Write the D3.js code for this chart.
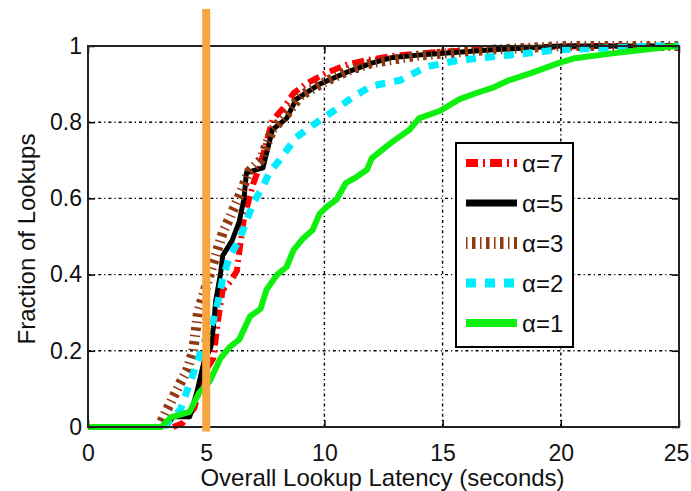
<!DOCTYPE html>
<html>
<head>
<meta charset="utf-8">
<script src="https://cdn.jsdelivr.net/npm/d3@7"></script>
<style>
  html, body { margin: 0; padding: 0; background: #fff; }
  svg text { font-family: "Liberation Sans", Arial, Helvetica, sans-serif; fill: #111; }
</style>
</head>
<body>
<svg id="chart" width="691" height="491"></svg>
<script>
// ---------- data ----------
const xTicks = [0, 5, 10, 15, 20, 25];
const yTicks = [0, 0.2, 0.4, 0.6, 0.8, 1];
const yTickLabels = ["0", "0.2", "0.4", "0.6", "0.8", "1"];
const xLabel = "Overall Lookup Latency (seconds)";
const yLabel = "Fraction of Lookups";
const markerX = 5;
const markerSpan = [-0.012, 1.097];

const seriesNames = ["α=7", "α=5", "α=3", "α=2", "α=1"];

const a7x = [3.6, 4.0, 4.5, 4.8, 5.0, 5.3, 5.5, 5.7, 6.0, 6.3, 6.4, 6.6, 7.0, 7.3, 7.8, 8.3, 8.7, 9.2, 10.1, 10.9, 11.8, 13.0, 15.0, 18.0, 21.0, 25];
const a7y = [0, 0.01, 0.05, 0.12, 0.15, 0.18, 0.28, 0.36, 0.38, 0.41, 0.46, 0.55, 0.64, 0.69, 0.805, 0.84, 0.876, 0.90, 0.93, 0.95, 0.963, 0.975, 0.985, 0.995, 1.0, 1.0];

const a5x = [3.3, 3.6, 4.3, 4.6, 4.9, 5.2, 5.3, 5.4, 5.6, 5.7, 6.1, 6.4, 6.6, 6.7, 7.1, 7.4, 7.8, 8.4, 8.8, 9.8, 10.9, 12.0, 12.9, 14.3, 17.1, 20.0, 25];
const a5y = [0, 0.027, 0.027, 0.09, 0.17, 0.21, 0.26, 0.33, 0.40, 0.45, 0.49, 0.54, 0.60, 0.667, 0.675, 0.68, 0.78, 0.81, 0.86, 0.90, 0.93, 0.955, 0.97, 0.978, 0.99, 1.0, 1.0];

const a3x = [3.0, 3.3, 3.9, 4.2, 4.45, 4.65, 5.0, 5.3, 5.7, 6.0, 6.5, 6.8, 7.3, 7.8, 8.4, 9.0, 10.0, 11.0, 12.0, 14.0, 17.0, 20.0, 25];
const a3y = [0, 0.04, 0.115, 0.15, 0.20, 0.30, 0.37, 0.43, 0.51, 0.55, 0.62, 0.67, 0.70, 0.78, 0.82, 0.87, 0.905, 0.935, 0.955, 0.975, 0.99, 1.0, 1.0];

const a2x = [3.2, 3.5, 3.9, 4.45, 4.9, 5.3, 5.5, 5.7, 6.0, 6.4, 6.7, 7.0, 7.3, 7.7, 8.1, 8.8, 9.8, 10.4, 11.2, 12.0, 13.2, 14.3, 15.7, 17.8, 19.9, 22.0, 24.0, 25];
const a2y = [0, 0.02, 0.045, 0.14, 0.22, 0.28, 0.33, 0.39, 0.45, 0.49, 0.54, 0.59, 0.62, 0.67, 0.70, 0.76, 0.805, 0.83, 0.866, 0.895, 0.91, 0.945, 0.963, 0.976, 0.99, 0.995, 1.0, 1.0];

const a1x = [0, 3.1, 3.5, 4.3, 4.7, 5.15, 5.6, 6.0, 6.4, 6.85, 7.3, 7.55, 8.0, 8.4, 8.7, 9.1, 9.5, 9.8, 10.1, 10.5, 10.9, 11.35, 11.8, 12.0, 12.3, 12.8, 13.6, 14.0, 14.9, 15.7, 16.4, 17.1, 17.8, 18.8, 19.9, 20.6, 22.1, 23.5, 24.9];
const a1y = [0, 0, 0.025, 0.04, 0.09, 0.12, 0.18, 0.21, 0.23, 0.29, 0.31, 0.36, 0.40, 0.42, 0.465, 0.495, 0.517, 0.56, 0.578, 0.596, 0.64, 0.656, 0.675, 0.705, 0.72, 0.745, 0.78, 0.81, 0.83, 0.86, 0.876, 0.89, 0.91, 0.93, 0.955, 0.968, 0.98, 0.99, 1.0];

// ---------- styles ----------
const styles = [
  { color: "#ff0000", width: 6, dash: "12,5,2,5" },
  { color: "#000000", width: 5, dash: null },
  { color: "#8f3a10", width: 10, dash: "1.5,4.5,3.5,4.5" },
  { color: "#00ecff", width: 7, dash: "10,9" },
  { color: "#10f010", width: 6, dash: null }
];
const seriesX = [a7x, a5x, a3x, a2x, a1x];
const seriesY = [a7y, a5y, a3y, a2y, a1y];
const series = seriesNames.map((name, i) => ({
  name, style: styles[i],
  points: seriesX[i].map((v, j) => [v, seriesY[i][j]])
}));

// ---------- layout ----------
const svg = d3.select("#chart");
const L = 88, R = 679, T = 46, B = 427;
const x = d3.scaleLinear().domain([0, 25]).range([L, R]);
const y = d3.scaleLinear().domain([0, 1]).range([B, T]);

svg.append("rect").attr("width", 691).attr("height", 491).attr("fill", "#fff");

// grid
const grid = svg.append("g").attr("stroke", "#000").attr("stroke-width", 1.4)
  .attr("stroke-dasharray", "3,3,1.2,3");
grid.selectAll("line.gx").data(xTicks.slice(1, -1)).join("line")
  .attr("x1", d => x(d)).attr("x2", d => x(d)).attr("y1", B).attr("y2", T);
grid.selectAll("line.gy").data(yTicks.slice(1, -1)).join("line")
  .attr("x1", L).attr("x2", R).attr("y1", d => y(d)).attr("y2", d => y(d));

// curves
const line = d3.line().x(d => x(d[0])).y(d => y(d[1]));
const cg = svg.append("g");
series.forEach(s => {
  cg.append("path").datum(s.points)
    .attr("d", line).attr("fill", "none")
    .attr("stroke", s.style.color).attr("stroke-width", s.style.width)
    .attr("stroke-dasharray", s.style.dash)
    .attr("stroke-linejoin", "round");
});

// axes
const fontSize = 23;
const axB = svg.append("g").attr("transform", `translate(0,${B})`)
  .call(d3.axisBottom(x).tickValues(xTicks).tickFormat(d3.format("d"))
    .tickSizeInner(-7).tickSizeOuter(0).tickPadding(18));
const axL = svg.append("g").attr("transform", `translate(${L},0)`)
  .call(d3.axisLeft(y).tickValues(yTicks).tickFormat((d, i) => yTickLabels[i])
    .tickSizeInner(-7).tickSizeOuter(0).tickPadding(6));
const axT = svg.append("g").attr("transform", `translate(0,${T})`)
  .call(d3.axisTop(x).tickValues(xTicks).tickFormat("").tickSizeInner(-7).tickSizeOuter(0));
const axR = svg.append("g").attr("transform", `translate(${R},0)`)
  .call(d3.axisRight(y).tickValues(yTicks).tickFormat("").tickSizeInner(-7).tickSizeOuter(0));
[axB, axL, axT, axR].forEach(a => {
  a.select(".domain").remove();
  a.selectAll(".tick line").attr("stroke", "#000").attr("stroke-width", 1.5);
  a.selectAll("text").attr("font-size", fontSize).attr("font-family", null).attr("fill", "#111");
});
// keep the last x label inside the frame
axB.selectAll(".tick text").filter(d => d === 25).attr("dx", -3);
svg.append("rect").attr("x", L).attr("y", T).attr("width", R - L).attr("height", B - T)
  .attr("fill", "none").attr("stroke", "#222").attr("stroke-width", 2);

// marker line at x = 5
svg.append("line")
  .attr("x1", x(markerX)).attr("x2", x(markerX))
  .attr("y1", y(markerSpan[1])).attr("y2", y(markerSpan[0]))
  .attr("stroke", "#f9a53f").attr("stroke-width", 8);

// axis labels
svg.append("text").attr("x", (L + R) / 2 - 1).attr("y", 486)
  .attr("text-anchor", "middle").attr("font-size", 24).text(xLabel);
svg.append("text").attr("transform", "translate(35,239) rotate(-90)")
  .attr("text-anchor", "middle").attr("font-size", 24).text(yLabel);

// legend
const lg = svg.append("g");
lg.append("rect").attr("x", 456).attr("y", 143).attr("width", 117).attr("height", 204)
  .attr("fill", "#fff").attr("stroke", "#000").attr("stroke-width", 2);
const rowY = d3.scalePoint().domain(seriesNames).range([163, 323]);
series.forEach(s => {
  const yy = rowY(s.name);
  lg.append("line").attr("x1", 466).attr("x2", 517).attr("y1", yy).attr("y2", yy)
    .attr("stroke", s.style.color).attr("stroke-width", s.style.width + 2)
    .attr("stroke-dasharray", s.style.dash);
  lg.append("text").attr("x", 522).attr("y", yy + 9).attr("font-size", 24).text(s.name);
});
</script>
</body>
</html>
